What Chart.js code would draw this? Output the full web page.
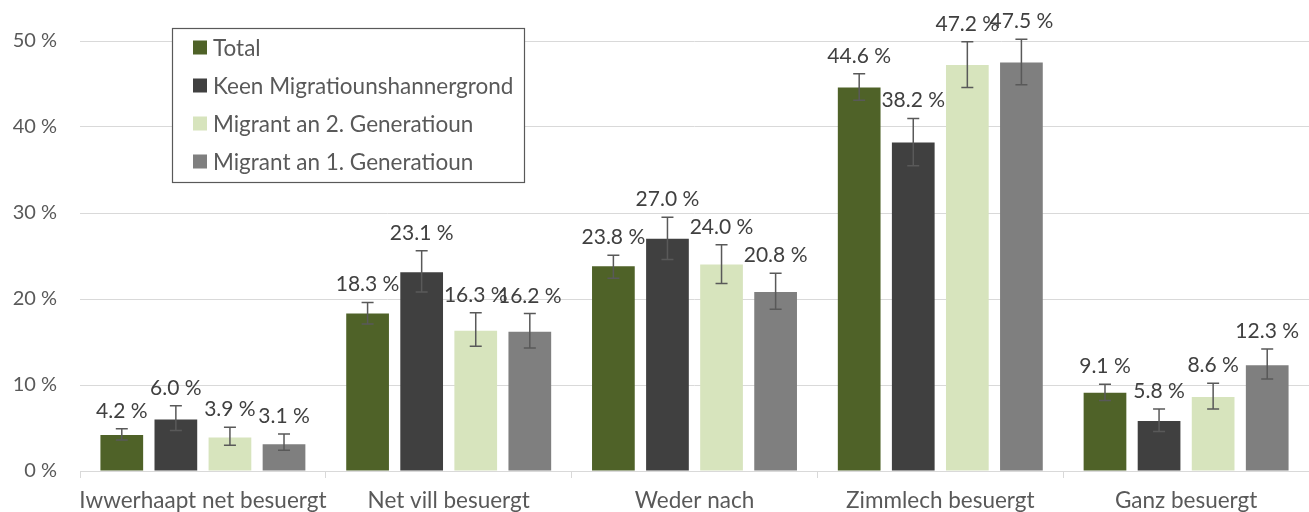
<!DOCTYPE html>
<html>
<head>
<meta charset="utf-8">
<script src="https://cdn.jsdelivr.net/npm/chart.js@4/dist/chart.umd.min.js"></script>
<style>
  body { margin: 0; background: #fff; }
</style>
</head>
<body>
<canvas id="chart" width="1309" height="512"></canvas>
<script>
// categories and series values (percent)
const categories = ['Iwwerhaapt net besuergt', 'Net vill besuergt', 'Weder nach', 'Zimmlech besuergt', 'Ganz besuergt'];
const seriesNames = ['Total', 'Keen Migratiounshannergrond', 'Migrant an 2. Generatioun', 'Migrant an 1. Generatioun'];

const total = [4.2, 18.3, 23.8, 44.6, 9.1];
const keen  = [6.0, 23.1, 27.0, 38.2, 5.8];
const mig2  = [3.9, 16.3, 24.0, 47.2, 8.6];
const mig1  = [3.1, 16.2, 20.8, 47.5, 12.3];

// error bar ends
const totalLow  = [3.6, 17.1, 22.4, 43.1, 8.2];
const totalHigh = [4.9, 19.6, 25.1, 46.2, 10.1];
const keenLow   = [4.7, 20.8, 24.6, 35.5, 4.6];
const keenHigh  = [7.6, 25.6, 29.5, 41.0, 7.2];
const mig2Low   = [3.0, 14.5, 21.8, 44.6, 7.2];
const mig2High  = [5.1, 18.4, 26.3, 49.9, 10.2];
const mig1Low   = [2.4, 14.3, 18.8, 44.9, 10.7];
const mig1High  = [4.3, 18.3, 23.0, 50.2, 14.2];

const yTicks = [0, 10, 20, 30, 40, 50];

const colors = ['#4f6228', '#404040', '#d7e4bd', '#7f7f7f'];
const values = [total, keen, mig2, mig1];
const lows = [totalLow, keenLow, mig2Low, mig1Low];
const highs = [totalHigh, keenHigh, mig2High, mig1High];

const FONT = 'Lato';

// error bars + value labels
const errorBars = {
    id: 'errorBars',
    afterDatasetsDraw(chart) {
        const ctx = chart.ctx;
        const y = chart.scales.y;
        ctx.save();
        chart.data.datasets.forEach((ds, i) => {
            const meta = chart.getDatasetMeta(i);
            meta.data.forEach((bar, j) => {
                const yHi = y.getPixelForValue(highs[i][j]);
                const yLo = y.getPixelForValue(lows[i][j]);
                ctx.strokeStyle = '#595959';
                ctx.lineWidth = 1.5;
                ctx.beginPath();
                ctx.moveTo(bar.x, yHi);
                ctx.lineTo(bar.x, yLo);
                ctx.moveTo(bar.x - 6, yHi);
                ctx.lineTo(bar.x + 6, yHi);
                ctx.moveTo(bar.x - 6, yLo);
                ctx.lineTo(bar.x + 6, yLo);
                ctx.stroke();

                ctx.fillStyle = '#404040';
                ctx.font = '21px ' + FONT;
                ctx.textAlign = 'center';
                ctx.textBaseline = 'alphabetic';
                ctx.fillText(ds.data[j].toFixed(1) + ' %', bar.x, yHi - 11);
            });
        });
        ctx.restore();
    }
};

// legend box inside the plot
const boxLegend = {
    id: 'boxLegend',
    afterDraw(chart) {
        const ctx = chart.ctx;
        ctx.save();
        ctx.fillStyle = '#ffffff';
        ctx.fillRect(172, 28, 352, 154);
        ctx.strokeStyle = '#595959';
        ctx.lineWidth = 1.2;
        ctx.strokeRect(172.5, 28.5, 352, 154);
        ctx.font = '22.5px ' + FONT;
        ctx.textBaseline = 'middle';
        ctx.textAlign = 'left';
        chart.data.datasets.forEach((ds, i) => {
            const cy = 47.5 + i * 38;
            ctx.fillStyle = ds.backgroundColor;
            ctx.fillRect(193, cy - 7, 14, 14);
            ctx.fillStyle = '#595959';
            ctx.fillText(ds.label, 213, cy + 1);
        });
        ctx.restore();
    }
};

new Chart(document.getElementById('chart'), {
    type: 'bar',
    data: {
        labels: categories,
        datasets: seriesNames.map((name, i) => ({
            label: name,
            data: values[i],
            backgroundColor: colors[i],
            borderWidth: 0,
            categoryPercentage: 0.88,
            barPercentage: 0.79
        }))
    },
    options: {
        responsive: false,
        animation: false,
        devicePixelRatio: 1,
        layout: { padding: { top: 41, right: 0, left: 0, bottom: 0 } },
        plugins: {
            legend: { display: false },
            tooltip: { enabled: false }
        },
        scales: {
            x: {
                offset: true,
                grid: { offset: true, drawOnChartArea: false, tickLength: 7, color: '#d9d9d9' },
                border: { color: '#d9d9d9' },
                ticks: {
                    color: '#595959',
                    font: { family: FONT, size: 22.5 },
                    padding: 9,
                    maxRotation: 0,
                    autoSkip: false
                },
                afterFit(scale) { scale.height = 41; }
            },
            y: {
                min: 0,
                max: 50,
                afterBuildTicks(scale) { scale.ticks = yTicks.map(v => ({ value: v })); },
                grid: { color: '#d9d9d9', drawTicks: false },
                border: { display: false },
                ticks: {
                    color: '#595959',
                    font: { family: FONT, size: 20 },
                    padding: 23,
                    callback: v => v + ' %'
                },
                afterFit(scale) { scale.width = 80; }
            }
        }
    },
    plugins: [errorBars, boxLegend]
});
</script>
</body>
</html>
